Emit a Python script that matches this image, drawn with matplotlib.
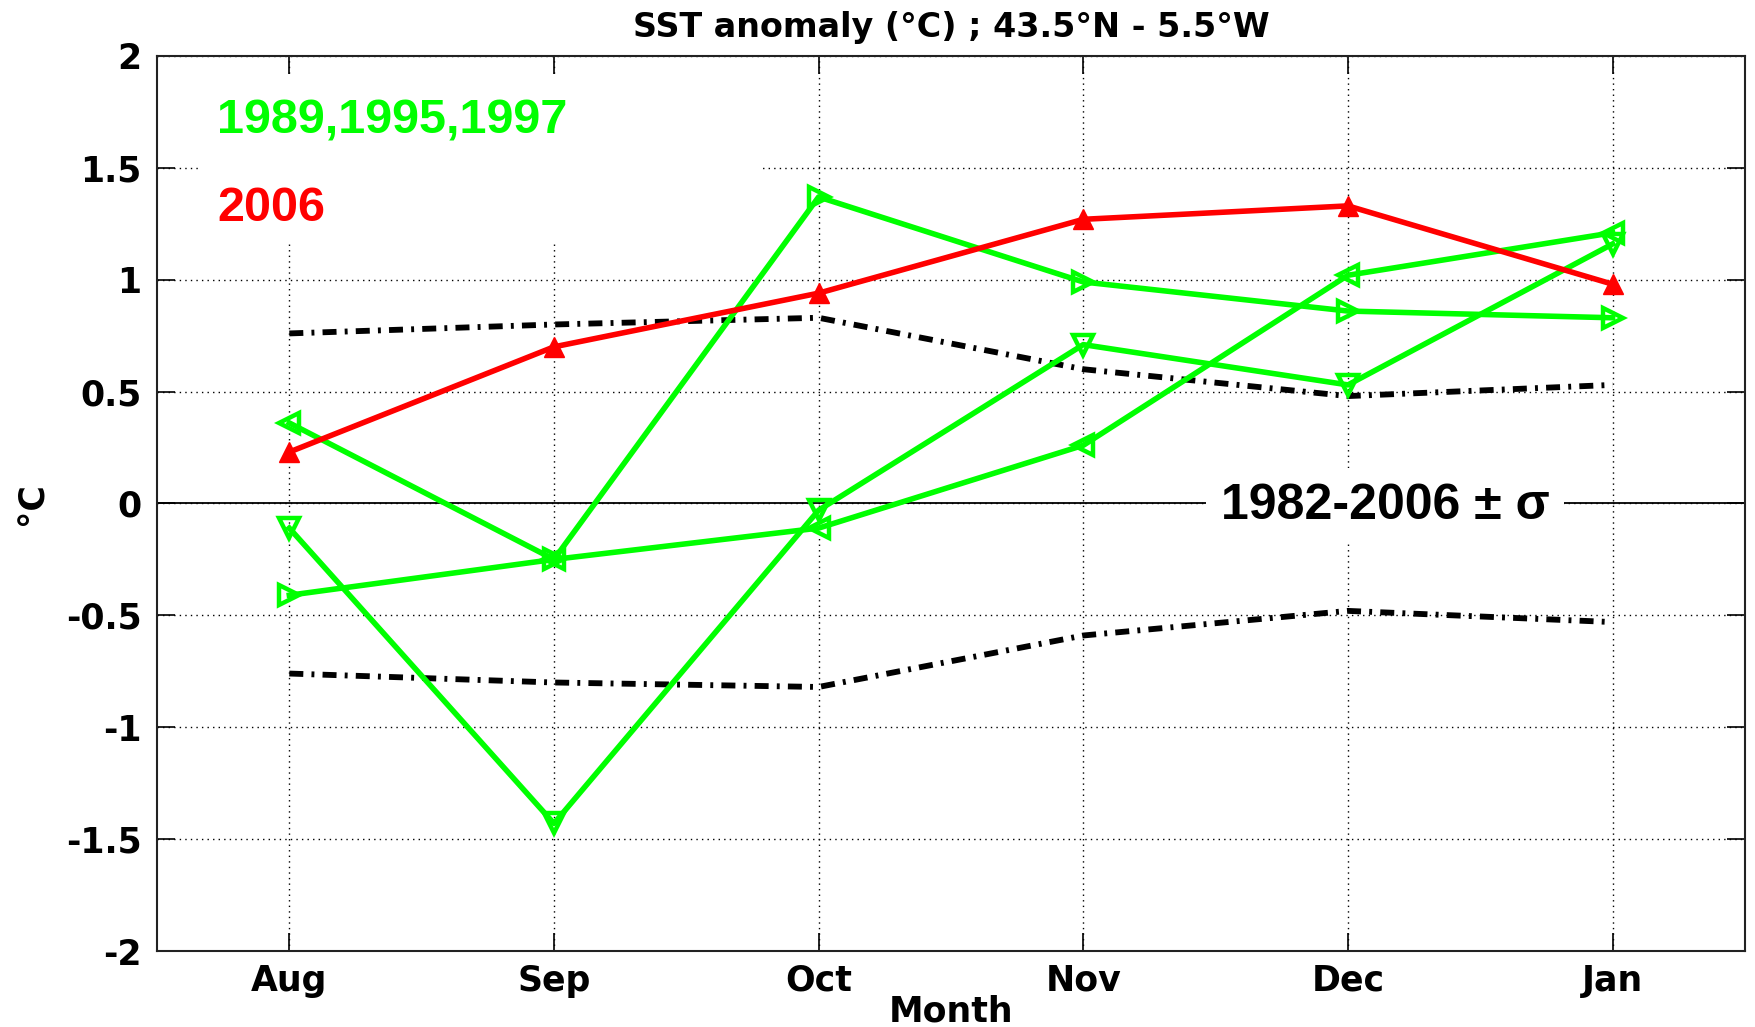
import matplotlib
matplotlib.use("Agg")
import matplotlib.pyplot as plt
from matplotlib.patches import Rectangle

months = ['Aug', 'Sep', 'Oct', 'Nov', 'Dec', 'Jan']
sst_2006 = [0.23, 0.70, 0.94, 1.27, 1.33, 0.98]
yr_right = [-0.41, -0.25, 1.37, 0.99, 0.86, 0.83]
yr_left = [0.36, -0.25, -0.11, 0.26, 1.02, 1.21]
yr_down = [-0.11, -1.43, -0.03, 0.71, 0.53, 1.16]
sigma_hi = [0.76, 0.80, 0.83, 0.60, 0.48, 0.53]
sigma_lo = [-0.76, -0.80, -0.82, -0.59, -0.48, -0.53]
yticks = [-2, -1.5, -1, -0.5, 0, 0.5, 1, 1.5, 2]
ytick_labels = ['-2', '-1.5', '-1', '-0.5', '0', '0.5', '1', '1.5', '2']

x = list(range(1, len(months) + 1))

GREEN = (0, 1, 0)
RED = (1, 0, 0)
tickfont = dict(family='DejaVu Sans', weight='bold', size=25)
bigfont = ['Liberation Sans Narrow', 'Liberation Sans', 'DejaVu Sans']

fig = plt.figure(figsize=(17.56, 10.27), dpi=100)
ax = fig.add_axes([0.0894, 0.074, 0.9043, 0.8715])
ax.set_axisbelow(True)

ax.set_xlim(0.5, 6.5)
ax.set_ylim(-2, 2)
ax.set_xticks(x)
ax.set_xticklabels(months, fontdict=tickfont)
ax.set_yticks(yticks)
ax.set_yticklabels(ytick_labels, fontdict=tickfont)
ax.tick_params(axis='both', direction='in', length=13, width=1.2,
               top=True, right=True)
ax.tick_params(axis='x', pad=9)
ax.tick_params(axis='y', pad=11)
ax.grid(True, color='black', linestyle=(0, (1, 3)), linewidth=1.0)
for s in ax.spines.values():
    s.set_linewidth(1.5)
    s.set_color('#222222')

# white background box behind the legend texts
ax.add_patch(Rectangle((0.026, 0.791), 0.354, 0.188, transform=ax.transAxes,
                       facecolor='white', edgecolor='none', zorder=1))

ax.axhline(0, color='black', linewidth=1.3, zorder=1.2)

dd = (0, (2.4, 1.4, 0.5, 1.4))
ax.plot(x, sigma_hi, color='black', linestyle=dd, linewidth=4.2, zorder=2)
ax.plot(x, sigma_lo, color='black', linestyle=dd, linewidth=4.2, zorder=2)

mk = dict(markersize=15, markerfacecolor='none', markeredgewidth=3.2)
lw = 4.0
ax.plot(x, yr_right, color=GREEN, linewidth=lw, marker='>', markeredgecolor=GREEN, zorder=3, **mk)
ax.plot(x, yr_left, color=GREEN, linewidth=lw, marker='<', markeredgecolor=GREEN, zorder=3, **mk)
ax.plot(x, yr_down, color=GREEN, linewidth=lw, marker='v', markeredgecolor=GREEN, zorder=3, **mk)

ax.plot(x, sst_2006, color=RED, linewidth=lw, marker='^', markersize=15,
        markerfacecolor=RED, markeredgecolor=RED, zorder=4)

ax.text(0.728, 1.71, '1989,1995,1997', color=GREEN, family=bigfont,
        weight='bold', fontsize=35, va='center', ha='left', zorder=5)
ax.text(0.728, 1.32, '2006', color=RED, family=bigfont,
        weight='bold', fontsize=35, va='center', ha='left', zorder=5)
ax.text(5.14, -0.01, '1982-2006 ± σ', color='black', family=bigfont,
        weight='bold', fontsize=36, va='center', ha='center', zorder=5,
        bbox=dict(boxstyle='square,pad=0.3', facecolor='white', edgecolor='none'))

ax.set_title('SST anomaly (°C) ; 43.5°N - 5.5°W', fontsize=24,
             fontweight='bold', family='DejaVu Sans', pad=14)
ax.set_xlabel('Month', fontsize=25, fontweight='bold', family='DejaVu Sans', labelpad=-2)
ax.set_ylabel('°C', fontsize=25, fontweight='bold', family='DejaVu Sans', labelpad=12)

fig.savefig('out.png', dpi=100)
